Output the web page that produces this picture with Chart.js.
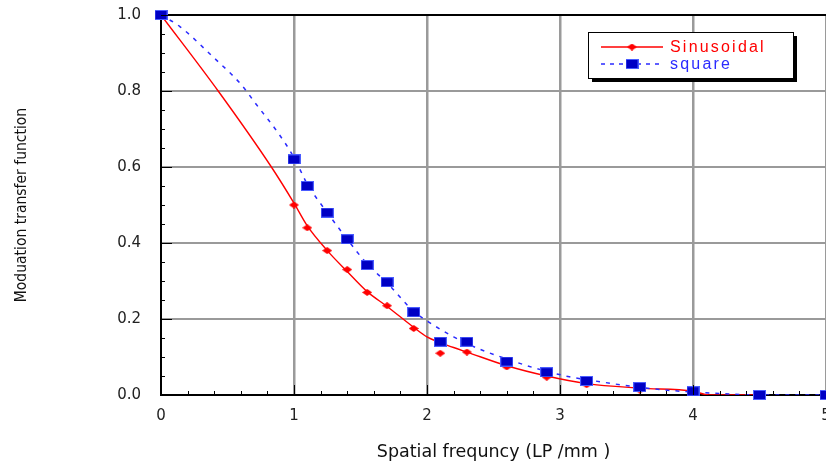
<!DOCTYPE html>
<html>
<head>
<meta charset="utf-8">
<script src="https://cdn.jsdelivr.net/npm/chart.js@4/dist/chart.umd.min.js"></script>
<style>
  html, body { margin: 0; padding: 0; background: #fff; }
  #wrap { width: 826px; height: 466px; }
</style>
</head>
<body>
<div id="wrap"><canvas id="mtf" width="826" height="466"></canvas></div>
<script>
// ── DATA ──────────────────────────────────────────────────────────────────────
// measured points (markers)
const freqSin = [0, 1.0, 1.1, 1.25, 1.4, 1.55, 1.7, 1.9, 2.1, 2.3, 2.6, 2.9, 3.2, 3.6, 4.0, 4.5];
const mtfSin  = [1.0, 0.50, 0.44, 0.38, 0.33, 0.27, 0.235, 0.175, 0.11, 0.113, 0.074, 0.047, 0.027, 0.013, 0.007, 0.0];
const freqSq  = [0, 1.0, 1.1, 1.25, 1.4, 1.55, 1.7, 1.9, 2.1, 2.3, 2.6, 2.9, 3.2, 3.6, 4.0, 4.5, 5.0];
const mtfSq   = [1.0, 0.62, 0.55, 0.48, 0.41, 0.342, 0.297, 0.218, 0.14, 0.14, 0.088, 0.06, 0.037, 0.021, 0.01, 0.0, 0.0];

// fitted curves (lines)
const fitSinX = [0, 0.43, 0.83, 1.0, 1.1, 1.25, 1.4, 1.55, 1.7, 1.9, 2.0, 2.2, 2.3, 2.6, 2.9, 3.2, 3.6, 4.0, 4.12, 4.5];
const fitSinY = [1.0, 0.8, 0.6, 0.505, 0.445, 0.38, 0.325, 0.272, 0.233, 0.178, 0.153, 0.125, 0.113, 0.077, 0.05, 0.03, 0.018, 0.01, 0.0, 0.0];
const fitSqX  = [0, 0.14, 0.39, 0.6, 0.72, 0.88, 1.0, 1.1, 1.25, 1.4, 1.55, 1.7, 1.9, 2.0, 2.2, 2.4, 2.6, 2.8, 3.07, 3.3, 3.6, 3.9, 4.2, 4.5, 5.0];
const fitSqY  = [1.0, 0.97, 0.89, 0.818, 0.763, 0.69, 0.625, 0.555, 0.48, 0.41, 0.345, 0.295, 0.22, 0.195, 0.153, 0.12, 0.095, 0.072, 0.048, 0.035, 0.02, 0.01, 0.004, 0.0, 0.0];

const seriesNames = ['Sinusoidal', 'square'];
const xTitle = 'Spatial frequncy (LP /mm )';
const yTitle = 'Moduation transfer function';

const RED = '#ff0000', BLUE = '#2a2aff', SQ_FILL = '#0000c4';
const pts = (xs, ys) => xs.map((x, i) => ({ x, y: ys[i] }));

// ── MARKER GLYPHS ─────────────────────────────────────────────────────────────
function makeSquare() {
  const c = document.createElement('canvas'); c.width = 13; c.height = 10;
  const g = c.getContext('2d');
  g.fillStyle = SQ_FILL; g.fillRect(0, 0, 13, 10);
  g.strokeStyle = '#4a5cff'; g.lineWidth = 1; g.strokeRect(0.5, 0.5, 12, 9);
  return c;
}
function makeDiamond() {
  const c = document.createElement('canvas'); c.width = 10; c.height = 7;
  const g = c.getContext('2d');
  g.fillStyle = RED;
  g.beginPath(); g.moveTo(5, 0); g.lineTo(10, 3.5); g.lineTo(5, 7); g.lineTo(0, 3.5); g.closePath(); g.fill();
  return c;
}
const sqGlyph = makeSquare(), diaGlyph = makeDiamond();

// ── PLUGINS ───────────────────────────────────────────────────────────────────
// inward major/minor ticks along both axes
const minorTicks = {
  id: 'minorTicks',
  afterDatasetsDraw(chart) {
    const { ctx, scales: { x, y }, chartArea: { left, bottom } } = chart;
    ctx.save();
    ctx.strokeStyle = '#000'; ctx.lineWidth = 1;
    ctx.beginPath();
    for (let i = 0; i <= 25; i++) {
      const px = Math.round(x.getPixelForValue(i * 0.2)) + 0.5;
      const len = i % 5 === 0 ? 10 : 4;
      ctx.moveTo(px, bottom); ctx.lineTo(px, bottom - len);
    }
    for (let i = 0; i <= 20; i++) {
      const py = Math.round(y.getPixelForValue(i * 0.05)) + 0.5;
      const len = i % 4 === 0 ? 11 : 4;
      ctx.moveTo(left, py); ctx.lineTo(left + len, py);
    }
    ctx.stroke();
    ctx.restore();
  }
};

// boxed legend with drop shadow, top right of the plot
const boxLegend = {
  id: 'boxLegend',
  afterDraw(chart) {
    const { ctx } = chart;
    const bx = 588, by = 32, bw = 205, bh = 46;
    ctx.save();
    ctx.fillStyle = '#000'; ctx.fillRect(bx + 4, by + 4, bw, bh);
    ctx.fillStyle = '#fff'; ctx.fillRect(bx, by, bw, bh);
    ctx.strokeStyle = '#000'; ctx.lineWidth = 1; ctx.strokeRect(bx + 0.5, by + 0.5, bw, bh);
    const items = chart.data.datasets.filter(d => d.legendKey);
    items.forEach((d, i) => {
      const ly = by + 15 + i * 17;
      ctx.strokeStyle = d.legendLine; ctx.lineWidth = 1.5;
      ctx.setLineDash(d.legendDash || []);
      ctx.beginPath(); ctx.moveTo(bx + 13, ly); ctx.lineTo(bx + 75, ly); ctx.stroke();
      ctx.setLineDash([]);
      const g = d.pointStyle;
      ctx.drawImage(g, bx + 44 - g.width / 2, ly - g.height / 2);
      ctx.fillStyle = d.legendLine;
      ctx.font = "16px 'Liberation Sans'";
      ctx.letterSpacing = '2.2px';
      ctx.textBaseline = 'middle';
      ctx.fillText(d.legendKey, bx + 82, ly + 1);
    });
    ctx.restore();
  }
};

// ── CHART ─────────────────────────────────────────────────────────────────────
const gridCol = (edgeTop) => (c) => {
  const v = c.tick.value;
  if (v === 0) return 'rgba(0,0,0,0)';
  if (edgeTop && Math.abs(v - 1) < 1e-9) return '#000';
  return '#9a9a9a';
};

new Chart(document.getElementById('mtf'), {
  type: 'scatter',
  data: {
    datasets: [
      { data: pts(fitSinX, fitSinY), showLine: true, borderColor: RED, borderWidth: 1.4,
        pointRadius: 0, cubicInterpolationMode: 'monotone', order: 4 },
      { data: pts(fitSqX, fitSqY), showLine: true, borderColor: BLUE, borderWidth: 1.5,
        borderDash: [4, 6], pointRadius: 0, cubicInterpolationMode: 'monotone', order: 3 },
      { label: seriesNames[0], legendKey: seriesNames[0], legendLine: RED,
        data: pts(freqSin, mtfSin), showLine: false, pointStyle: diaGlyph, clip: false, order: 2 },
      { label: seriesNames[1], legendKey: seriesNames[1], legendLine: BLUE, legendDash: [4, 5],
        data: pts(freqSq, mtfSq), showLine: false, pointStyle: sqGlyph, clip: false, order: 1 }
    ]
  },
  options: {
    responsive: false,
    animation: false,
    events: [],
    layout: { autoPadding: false, padding: { top: 15, right: 0, left: 0, bottom: 0 } },
    plugins: { legend: { display: false }, tooltip: { enabled: false } },
    scales: {
      x: {
        type: 'linear', min: 0, max: 5,
        afterFit(s) { s.height = 71; s.paddingLeft = 0; s.paddingRight = 0; },
        ticks: { stepSize: 1, padding: 12, color: '#222', maxRotation: 0,
                 font: { family: "'DejaVu Sans'", size: 15 } },
        grid: { color: gridCol(false), lineWidth: 2.5, drawTicks: false },
        border: { color: '#000', width: 2 },
        title: { display: true, text: xTitle, color: '#111', padding: { top: 0, bottom: 3 },
                 font: { family: "'DejaVu Sans'", size: 17.5 } }
      },
      y: {
        type: 'linear', min: 0, max: 1,
        afterFit(s) { s.width = 161; s.paddingTop = 0; s.paddingBottom = 0; },
        ticks: { stepSize: 0.2, padding: 20, color: '#222',
                 callback: v => v.toFixed(1),
                 font: { family: "'DejaVu Sans'", size: 15 } },
        grid: { color: gridCol(true), lineWidth: 2, drawTicks: false },
        border: { color: '#000', width: 2 },
        title: { display: true, text: yTitle, color: '#111', padding: { top: 13, bottom: 0 },
                 font: { family: "'Liberation Sans Narrow', 'DejaVu Sans Condensed', sans-serif", size: 15.5 } }
      }
    }
  },
  plugins: [minorTicks, boxLegend]
});
</script>
</body>
</html>
